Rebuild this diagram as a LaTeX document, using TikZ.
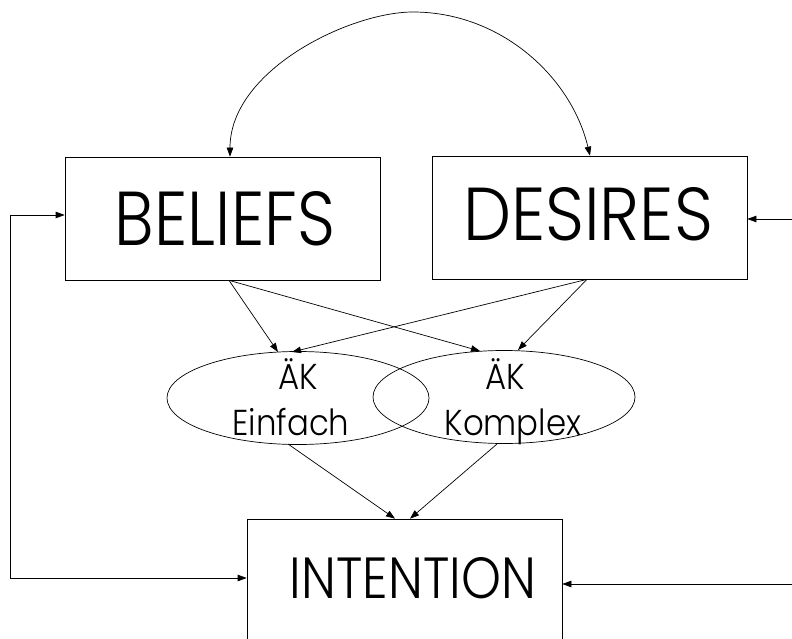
\documentclass[tikz,border=0pt]{standalone}
\usepackage{fontspec}
\setmainfont{Poppins}[UprightFont=* Light]
\newfontfamily\narrowfont[FakeStretch=0.9,UprightFont=* Light]{Poppins}
\usetikzlibrary{arrows.meta,shapes.geometric,calc}
\begin{document}
\begin{tikzpicture}[x=1pt,y=-1pt,
  conn/.style={line width=0.7pt,-{Triangle[length=9pt,width=6.5pt]}},
  biconn/.style={line width=0.7pt,{Triangle[length=9pt,width=6.5pt]}-{Triangle[length=9pt,width=6.5pt]}},
  bigbox/.style={draw,line width=0.7pt,rectangle,inner sep=0pt,minimum width=315pt},
  oval/.style={draw,line width=0.7pt,ellipse,inner sep=0pt,minimum width=262pt,minimum height=93pt},
  small/.style={anchor=base,inner sep=0pt,font=\narrowfont\fontsize{36}{46}\selectfont}]
\useasboundingbox (0,0) rectangle (792,639);
\clip (0,0) rectangle (792,639);
\node[bigbox,minimum height=123pt] (bel) at (222.5,218.5) {\hspace*{5pt}\resizebox{220pt}{54pt}{BELIEFS}};
\node[bigbox,minimum height=123pt] (des) at (589.5,217.5) {\raisebox{8pt}{\resizebox{250pt}{53pt}{DESIRES}}\hspace*{3pt}};
\node[bigbox,minimum height=125pt] (int) at (404.5,581.5) {\hspace*{17pt}\raisebox{7pt}{\resizebox{246pt}{41pt}{INTENTION}}};
\node[oval] (e1) at (298,398) {};
\node[oval] (e2) at (504,397) {};
\node[small] (e1a) at (298,389.5) {ÄK};
\node[small] (e1b) at (291,435) {Einfach};
\node[small] (e2a) at (505,389.5) {ÄK};
\node[small] (e2b) at (513,435) {Komplex};
\coordinate (lft) at (10,578);
\coordinate (r1) at (792,219);
\coordinate (r2) at (792,584);
\coordinate (top) at (413,12);
% top arc
\draw[biconn] ([xshift=7.5pt]bel.north) .. controls (230,70) and (350,12) .. (top)
  .. controls (500,12) and (571,76) .. ([xshift=0.5pt]des.north);
% left loop
\draw[biconn] ([yshift=3.5pt]bel.west) -| (lft) -- ([yshift=3.5pt]int.west);
% right inputs
\draw[conn] (r1) -- (r1 -| des.east);
\draw[conn] (r2) -- (r2 -| int.east);
% beliefs/desires to ellipses
\draw[conn] ([xshift=6.5pt]bel.south) -- ($(e1.center)+(-20,-46)$);
\draw[conn] ([xshift=6.5pt]bel.south) -- ($(e2.center)+(-24,-46)$);
\draw[conn] ([xshift=-2.5pt]des.south) -- ($(e1.center)+(-6,-46)$);
\draw[conn] ([xshift=-2.5pt]des.south) -- ($(e2.center)+(14,-47)$);
% ellipses to intention
\draw[conn] ($(e1.center)+(-10,46)$) -- ([xshift=-9.5pt]int.north);
\draw[conn] ($(e2.center)+(-7,47)$) -- ([xshift=5.5pt]int.north);
\end{tikzpicture}
\end{document}
